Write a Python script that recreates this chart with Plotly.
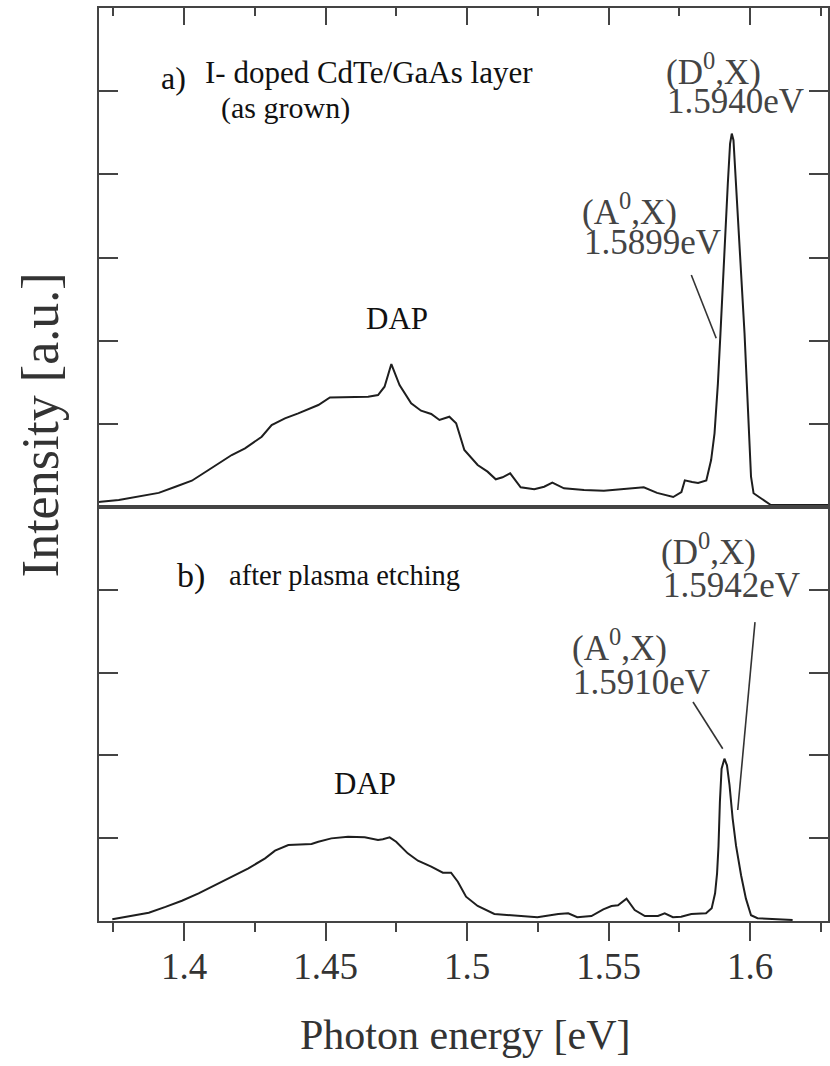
import plotly.graph_objects as go

# ---------------- data ----------------
energy_a = [1.3699, 1.3705, 1.3769, 1.3840, 1.3910, 1.3969, 1.4027, 1.4086, 1.4168, 1.4215,
            1.4274, 1.4309, 1.4356, 1.4403, 1.4474, 1.4515, 1.4579, 1.4650, 1.4685, 1.4708,
            1.4732, 1.4761, 1.4802, 1.4837, 1.4873, 1.4902, 1.4937, 1.4961, 1.4990, 1.5037,
            1.5072, 1.5101, 1.5125, 1.5152, 1.5189, 1.5237, 1.5272, 1.5301, 1.5342, 1.5413,
            1.5483, 1.5553, 1.5624, 1.5671, 1.5699, 1.5728, 1.5757, 1.5769, 1.5795, 1.5816,
            1.5845, 1.5862, 1.5874, 1.5886, 1.5895, 1.5903, 1.5911, 1.5921, 1.5929, 1.5935,
            1.5941, 1.5950, 1.5960, 1.5970, 1.5980, 1.5988, 1.5995, 1.6003, 1.6012, 1.6038,
            1.6073, 1.6275]
intensity_a = [0.06, 0.064, 0.084, 0.124, 0.17, 0.244, 0.316, 0.445, 0.625, 0.705,
               0.845, 0.986, 1.066, 1.126, 1.226, 1.318, 1.318, 1.326, 1.346, 1.446,
               1.719, 1.466, 1.246, 1.158, 1.118, 1.046, 1.086, 1.006, 0.685, 0.505,
               0.425, 0.333, 0.357, 0.405, 0.237, 0.213, 0.244, 0.292, 0.225, 0.204,
               0.196, 0.216, 0.237, 0.17, 0.15, 0.12, 0.18, 0.32, 0.30, 0.29,
               0.32, 0.565, 0.886, 1.487, 2.088, 2.689, 3.29, 3.89, 4.37, 4.49,
               4.41, 3.89, 3.29, 2.69, 2.09, 1.49, 0.886, 0.364, 0.165, 0.105,
               0.024, 0.024]

energy_b = [1.3746, 1.3816, 1.3875, 1.3934, 1.3992, 1.4051, 1.4110, 1.4168, 1.4227, 1.4286,
            1.4321, 1.4368, 1.4450, 1.4474, 1.4520, 1.4579, 1.4638, 1.4685, 1.4702, 1.4726,
            1.4749, 1.4790, 1.4826, 1.4873, 1.4914, 1.4943, 1.4967, 1.4996, 1.5037, 1.5096,
            1.5178, 1.5248, 1.5322, 1.5357, 1.5389, 1.5439, 1.5481, 1.5510, 1.5533, 1.5563,
            1.5592, 1.5628, 1.5674, 1.5698, 1.5727, 1.5756, 1.5792, 1.5844, 1.5864, 1.5876,
            1.5883, 1.5888, 1.5893, 1.5899, 1.5909, 1.5918, 1.5927, 1.5938, 1.5950, 1.5968,
            1.5985, 1.6003, 1.6026, 1.6150]
intensity_b = [0.02, 0.06, 0.10, 0.17, 0.245, 0.334, 0.435, 0.535, 0.636, 0.757,
               0.849, 0.918, 0.930, 0.958, 0.998, 1.018, 1.01, 0.978, 0.987, 1.01,
               0.958, 0.817, 0.728, 0.656, 0.584, 0.584, 0.475, 0.294, 0.181, 0.085,
               0.06, 0.045, 0.085, 0.093, 0.045, 0.06, 0.14, 0.18, 0.19, 0.27,
               0.133, 0.06, 0.06, 0.093, 0.045, 0.052, 0.085, 0.093, 0.153, 0.335,
               0.576, 0.9, 1.44, 1.84, 1.96, 1.88, 1.64, 1.24, 0.91, 0.55,
               0.27, 0.07, 0.033, 0.012]

tick_values = [1.4, 1.45, 1.5, 1.55, 1.6]
tick_labels = ["1.4", "1.45", "1.5", "1.55", "1.6"]

# pointer lines (energy, intensity) for the peak labels
pointer_a_A0X_x = [1.5792, 1.5880]
pointer_a_A0X_y = [2.79, 2.03]
pointer_b_A0X_x = [1.5798, 1.5903]
pointer_b_A0X_y = [2.645, 2.08]
pointer_b_D0X_x = [1.6017, 1.5956]
pointer_b_D0X_y = [3.61, 1.34]

# ---------------- layout geometry ----------------
W, H = 830, 1066
L, R, T, B = 99, 0, 8, 145
PW = W - L - R
PH = H - T - B
y_split = (921 - 507) / PH

def paper(px, py):
    return (px - L) / PW, (H - B - py) / PH

FONT = "Liberation Serif"
AXC = "#444444"
LINEC = "#1e1e1e"

fig = go.Figure()
fig.add_trace(go.Scatter(x=energy_a, y=intensity_a, mode="lines",
                         line=dict(color=LINEC, width=2), xaxis="x", yaxis="y",
                         showlegend=False, hoverinfo="skip"))
fig.add_trace(go.Scatter(x=energy_b, y=intensity_b, mode="lines",
                         line=dict(color=LINEC, width=2), xaxis="x2", yaxis="y2",
                         showlegend=False, hoverinfo="skip"))

for xs, ys, xr, yr in [(pointer_a_A0X_x, pointer_a_A0X_y, "x", "y"),
                       (pointer_b_A0X_x, pointer_b_A0X_y, "x2", "y2"),
                       (pointer_b_D0X_x, pointer_b_D0X_y, "x2", "y2")]:
    fig.add_shape(type="line", x0=xs[0], x1=xs[1], y0=ys[0], y1=ys[1],
                  xref=xr, yref=yr, line=dict(color="#333333", width=1.6))

xrange = [1.3699, 1.6275]
common_x = dict(range=xrange, showline=True, mirror=True, linecolor=AXC, linewidth=2,
                tickmode="array", tickvals=tick_values, ticktext=tick_labels,
                tickcolor=AXC, tickwidth=2, showgrid=False, zeroline=False)
fig.update_layout(
    xaxis=dict(**common_x, domain=[0, 1], anchor="y", side="top", ticks="inside",
               ticklen=17, showticklabels=False,
               minor=dict(tickmode="linear", tick0=1.375, dtick=0.05, ticks="inside",
                          ticklen=8, tickcolor=AXC, tickwidth=2)),
    xaxis2=dict(**common_x, domain=[0, 1], anchor="y2", side="bottom", ticks="outside",
                ticklen=18, showticklabels=True, matches="x",
                tickfont=dict(family=FONT, size=37, color="#333333"),
                ticklabelstandoff=-6,
                minor=dict(tickmode="linear", tick0=1.375, dtick=0.05, ticks="outside",
                           ticklen=9, tickcolor=AXC, tickwidth=2)),
    yaxis=dict(domain=[y_split, 1], anchor="x", range=[0, 6], dtick=1, tick0=0,
               ticks="inside", ticklen=19, tickcolor=AXC, tickwidth=2,
               showline=True, mirror="ticks", linecolor=AXC, linewidth=2,
               showticklabels=False, showgrid=False, zeroline=False),
    yaxis2=dict(domain=[0, y_split], anchor="x2", range=[0, 5], dtick=1, tick0=0,
                ticks="inside", ticklen=19, tickcolor=AXC, tickwidth=2,
                showline=True, mirror="ticks", linecolor=AXC, linewidth=2,
                showticklabels=False, showgrid=False, zeroline=False),
    width=W, height=H,
    margin=dict(l=L, r=R, t=T, b=B, pad=0),
    paper_bgcolor="white", plot_bgcolor="white",
    showlegend=False,
    font=dict(family=FONT),
)

def label(text, px, py, size, color="#111111", xanchor="left", angle=0):
    x, y = paper(px, py)
    fig.add_annotation(text=text, x=x, y=y, xref="paper", yref="paper",
                       xanchor=xanchor, yanchor="middle", showarrow=False,
                       textangle=angle,
                       font=dict(family=FONT, size=size, color=color))

# panel a
label("a)", 159, 78, 32)
label("I- doped CdTe/GaAs layer", 203, 73, 31)
label("(as grown)", 219, 108, 30)
label("DAP", 398, 318, 31, xanchor="center")
label("(D<sup>0</sup>,X)", 666, 70, 35, color="#444444")
label("1.5940eV", 667, 101, 35, color="#444444")
label("(A<sup>0</sup>,X)", 581, 209, 35, color="#444444")
label("1.5899eV", 583, 243, 35, color="#444444")
# panel b
label("b)", 175, 576, 34)
label("after plasma etching", 227, 575, 28.5)
label("DAP", 366, 783, 31, xanchor="center")
label("(D<sup>0</sup>,X)", 661, 549, 35, color="#444444")
label("1.5942eV", 663, 585, 35, color="#444444")
label("(A<sup>0</sup>,X)", 571, 645, 35, color="#444444")
label("1.5910eV", 572, 682, 35, color="#444444")
# axis titles
label("Photon energy [eV]", 466, 1035, 42, color="#333333", xanchor="center")
label("Intensity [a.u.]", 40, 425, 52, color="#333333", xanchor="center", angle=-90)

fig.write_html("out.html", config={"displayModeBar": False},
               post_script="document.body.style.margin='0';")
